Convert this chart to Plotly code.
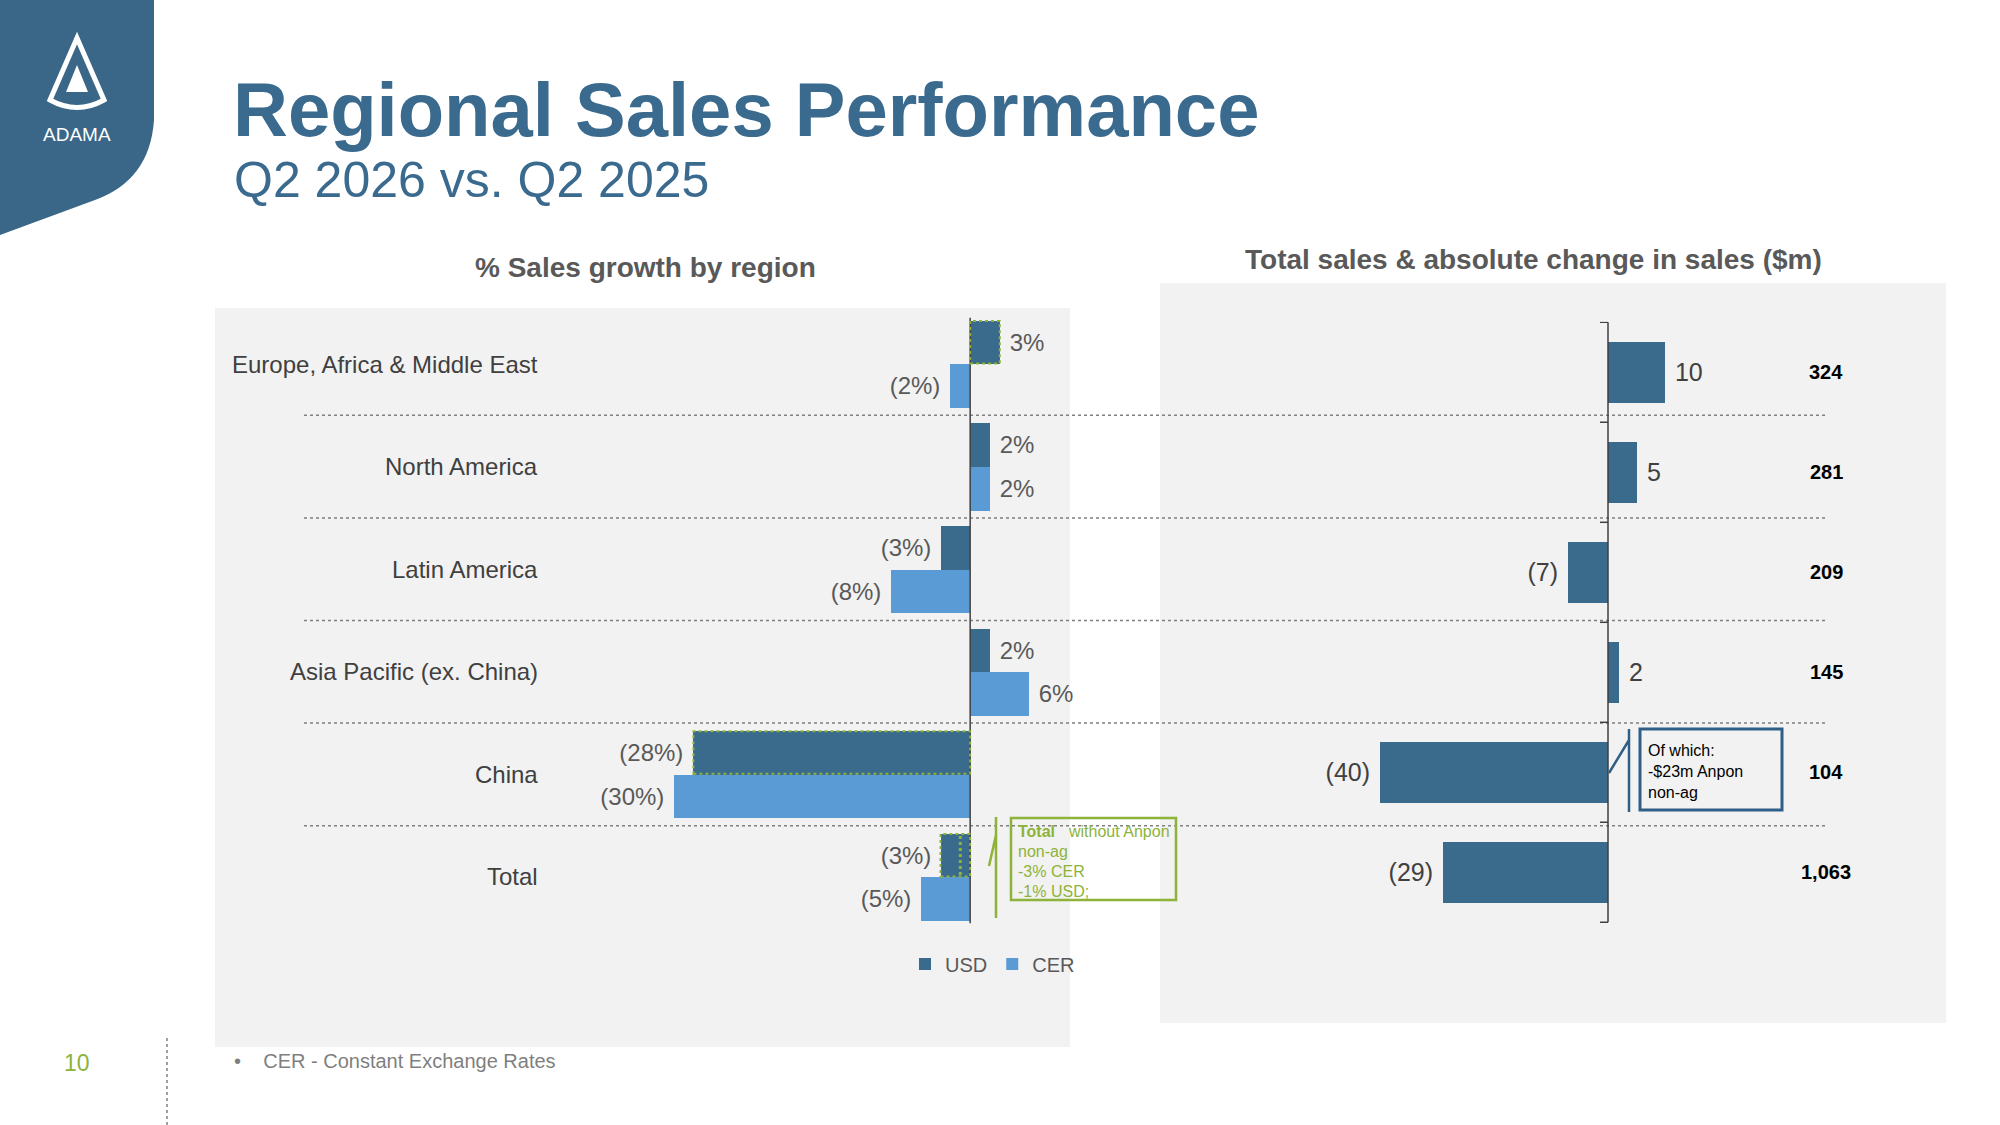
import plotly.graph_objects as go

regions = ["Europe, Africa & Middle East", "North America", "Latin America",
           "Asia Pacific (ex. China)", "China", "Total"]
usd = [3, 2, -3, 2, -28, -3]
cer = [-2, 2, -8, 6, -30, -5]
abs_change = [10, 5, -7, 2, -40, -29]
total_sales = ["324", "281", "209", "145", "104", "1,063"]

DARK = "#3a6a8c"
LIGHT = "#5b9bd5"
TITLE = "#3b6a8f"
GREEN = "#8db33a"

W, H = 2000, 1125
def px(x): return x / W
def py(y): return 1 - y / H

def pct(v):
    return f" {v}%" if v >= 0 else f"({-v}%) "
def num(v):
    return f" {v}" if v >= 0 else f"({-v}) "

rows = list(range(len(regions)))
ypos = [-k for k in rows]

fig = go.Figure()
fig.add_bar(x=usd, y=[y + 0.2125 for y in ypos], orientation="h", width=0.425,
            marker=dict(color=DARK, line=dict(width=0)), name="USD",
            text=[pct(v) for v in usd], textposition="outside",
            textfont=dict(size=24, color="#595959"), cliponaxis=False,
            xaxis="x", yaxis="y")
fig.add_bar(x=cer, y=[y - 0.2125 for y in ypos], orientation="h", width=0.425,
            marker=dict(color=LIGHT, line=dict(width=0)), name="CER",
            text=[pct(v) for v in cer], textposition="outside",
            textfont=dict(size=24, color="#595959"), cliponaxis=False,
            xaxis="x", yaxis="y")
fig.add_bar(x=abs_change, y=ypos, orientation="h", width=0.615,
            marker=dict(color=DARK, line=dict(width=0)), showlegend=False,
            text=[num(v) for v in abs_change], textposition="outside",
            textfont=dict(size=25, color="#404040"), cliponaxis=False,
            xaxis="x2", yaxis="y2")

shapes = []
shapes.append(dict(type="path", xref="paper", yref="paper",
                   path=f"M {px(0)},{py(0)} L {px(154)},{py(0)} L {px(154)},{py(120)} "
                        f"Q {px(150)},{py(180)} {px(95)},{py(200)} L {px(0)},{py(235)} Z",
                   fillcolor="#3a6688", line=dict(width=0), layer="below"))
shapes.append(dict(type="path", xref="paper", yref="paper",
                   path=f"M {px(77)},{py(38)} L {px(104)},{py(100)} Q {px(77)},{py(115)} {px(50)},{py(100)} Z",
                   fillcolor="rgba(0,0,0,0)", line=dict(color="white", width=5)))
shapes.append(dict(type="path", xref="paper", yref="paper",
                   path=f"M {px(77)},{py(65)} L {px(88)},{py(92)} L {px(66)},{py(92)} Z",
                   fillcolor="white", line=dict(width=0)))
shapes.append(dict(type="rect", xref="paper", yref="paper", x0=px(215), x1=px(1070),
                   y0=py(308), y1=py(1047), fillcolor="#f2f2f2", line=dict(width=0), layer="below"))
shapes.append(dict(type="rect", xref="paper", yref="paper", x0=px(1160), x1=px(1946),
                   y0=py(283), y1=py(1023), fillcolor="#f2f2f2", line=dict(width=0), layer="below"))
for k in rows[:-1]:
    shapes.append(dict(type="line", xref="paper", yref="y", x0=px(304), x1=px(1825),
                       y0=-k - 0.5, y1=-k - 0.5, line=dict(color="#808080", width=1.5, dash="dot")))
shapes.append(dict(type="line", xref="x", yref="y", x0=0, x1=0, y0=0.45, y1=-5.45,
                   line=dict(color="#404040", width=1.5)))
shapes.append(dict(type="line", xref="x2", yref="y2", x0=0, x1=0, y0=0.5, y1=-5.5,
                   line=dict(color="#404040", width=1.5)))
for k in range(len(regions) + 1):
    shapes.append(dict(type="line", xref="x2", yref="y2", x0=-1.4, x1=0, y0=0.5 - k, y1=0.5 - k,
                       line=dict(color="#404040", width=1.5)))
for k in [0, 4, 5]:
    shapes.append(dict(type="rect", xref="x", yref="y", x0=min(0, usd[k]), x1=max(0, usd[k]),
                       y0=ypos[k] + 0.005, y1=ypos[k] + 0.42,
                       line=dict(color=GREEN, width=2, dash="dot"), fillcolor="rgba(0,0,0,0)"))
shapes.append(dict(type="line", xref="x", yref="y", x0=-1.0, x1=-1.0, y0=ypos[5] + 0.02, y1=ypos[5] + 0.42,
                   line=dict(color=GREEN, width=3, dash="dot")))
shapes.append(dict(type="rect", xref="paper", yref="paper", x0=px(1011), x1=px(1176),
                   y0=py(818), y1=py(900), line=dict(color=GREEN, width=2.5), fillcolor="rgba(0,0,0,0)"))
shapes.append(dict(type="path", xref="paper", yref="paper",
                   path=f"M {px(996)},{py(817)} L {px(996)},{py(918)} M {px(996)},{py(835)} L {px(989)},{py(866)}",
                   line=dict(color=GREEN, width=2.5)))
shapes.append(dict(type="rect", xref="paper", yref="paper", x0=px(1640), x1=px(1782),
                   y0=py(729), y1=py(810), line=dict(color="#2f5f86", width=3), fillcolor="rgba(0,0,0,0)"))
shapes.append(dict(type="path", xref="paper", yref="paper",
                   path=f"M {px(1629)},{py(729)} L {px(1629)},{py(812)} M {px(1629)},{py(740)} L {px(1609)},{py(773)}",
                   line=dict(color="#2f5f86", width=2.5)))
shapes.append(dict(type="line", xref="paper", yref="paper", x0=px(167), x1=px(167), y0=py(1038), y1=py(1125),
                   line=dict(color="#808080", width=1.5, dash="dot")))

ann = []
def A(text, x, y, size, color, xanchor="center", yanchor="middle", yref="paper", **kw):
    d = dict(text=text, x=px(x), y=(py(y) if yref == "paper" else y), xref="paper", yref=yref,
             xanchor=xanchor, yanchor=yanchor, showarrow=False, font=dict(size=size, color=color))
    d.update(kw)
    ann.append(d)

A("ADAMA", 77, 134, 19, "white")
A("<b>Regional Sales Performance</b>", 231, 110, 76, TITLE, xanchor="left")
A("Q2 2026 vs. Q2 2025", 232, 180, 50, TITLE, xanchor="left")
A("<b>% Sales growth by region</b>", 645, 267, 28, "#595959")
A("<b>Total sales & absolute change in sales ($m)</b>", 1533, 260, 28, "#595959")
for k, r in enumerate(regions):
    A(r, 540, ypos[k], 24, "#404040", xanchor="right", yref="y")
    A(f"<b>{total_sales[k]}</b>", 1826, ypos[k], 20, "black", yref="y2")
green_lines = ["<b>Total</b>", "non-ag", "-3% CER", "-1% USD;"]
for i, t in enumerate(green_lines):
    A(t, 1016, 831 + 20 * i, 16, GREEN, xanchor="left")
A("without Anpon", 1066, 831, 16, GREEN, xanchor="left")
A("Of which:<br>-$23m Anpon<br>non-ag", 1646, 740, 16, "black", xanchor="left", yanchor="top", align="left")
A("10", 77, 1063, 23, GREEN)
A("•    CER - Constant Exchange Rates", 232, 1061, 20, "#7f7f7f", xanchor="left")

fig.update_layout(
    width=W, height=H, margin=dict(l=0, r=0, t=0, b=0),
    paper_bgcolor="white", plot_bgcolor="rgba(0,0,0,0)",
    font=dict(family="Liberation Sans"),
    barmode="overlay", bargap=0,
    xaxis=dict(domain=[px(644), px(1069)], range=[-33, 10], visible=False),
    yaxis=dict(domain=[py(969.3), py(307.6)], range=[-5.9, 0.55], visible=False),
    xaxis2=dict(domain=[px(1323), px(1722)], range=[-50, 20], visible=False),
    yaxis2=dict(domain=[py(971.8), py(321.8)], range=[-5.995, 0.505], visible=False, anchor="x2"),
    legend=dict(orientation="h", x=px(905), y=py(964), xanchor="left", yanchor="middle",
                bgcolor="rgba(0,0,0,0)", font=dict(size=20, color="#595959"),
                itemwidth=30, traceorder="normal"),
    shapes=shapes, annotations=ann,
)
fig.write_html("out.html", config={"displayModeBar": False},
               post_script="document.body.style.margin='0';")
